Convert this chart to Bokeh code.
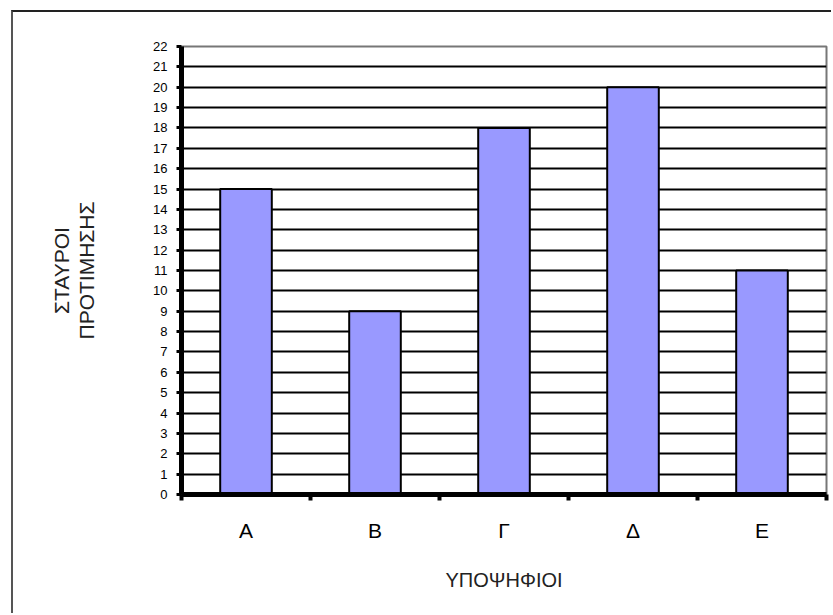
from bokeh.plotting import figure
from bokeh.models import FixedTicker, Range1d, LinearAxis
from bokeh.embed import file_html
from bokeh.resources import INLINE
import numpy as np

# Candidates and their preference votes
candidates = ["Α", "Β", "Γ", "Δ", "Ε"]
votes = [15, 9, 18, 20, 11]
y_ticks = list(range(0, 23))
y_title = ["ΣΤΑΥΡΟΙ", "ΠΡΟΤΙΜΗΣΗΣ"]

FONT = "Liberation Sans"

# bar centres sit halfway between the integer category boundaries
centres = np.arange(len(candidates)) + 0.5

p = figure(
    width=820, height=603,
    x_range=Range1d(0, len(candidates)),
    y_range=Range1d(0, 22),
    output_backend="svg", toolbar_location=None,
    min_border_left=168, min_border_top=34,
    min_border_right=7, min_border_bottom=121,
)
p.styles = {
    "border-left": "2px solid #555",
    "border-top": "2px solid #222",
    "margin-left": "11px",
    "margin-top": "10px",
}
p.background_fill_color = "white"
p.border_fill_color = "white"
p.outline_line_color = "#777777"
p.outline_line_width = 2

# horizontal grid, one line per vote
p.xgrid.visible = False
p.ygrid.ticker = FixedTicker(ticks=y_ticks)
p.ygrid.grid_line_color = "black"
p.ygrid.grid_line_width = 2

p.vbar(x=centres, top=votes, width=0.4,
       fill_color="#9999FF", line_color="black", line_width=2)


def style_title(axis, text, standoff):
    axis.axis_label = text
    axis.axis_label_text_font = FONT
    axis.axis_label_text_font_size = "21px"
    axis.axis_label_text_font_style = "normal"
    axis.axis_label_text_color = "#222222"
    axis.axis_label_standoff = standoff


# y axis
ya = p.yaxis[0]
ya.ticker = FixedTicker(ticks=y_ticks)
ya.axis_line_width = 5
ya.axis_line_color = "black"
ya.major_tick_out = 5
ya.major_tick_in = 0
ya.major_tick_line_width = 3
ya.minor_tick_line_color = None
ya.major_label_text_font = FONT
ya.major_label_text_font_size = "13px"
ya.major_label_text_color = "black"
ya.major_label_standoff = 9
style_title(ya, y_title[1], 52)

# outer, bare axis that only carries the first line of the y title
ya2 = LinearAxis(ticker=FixedTicker(ticks=[]))
ya2.axis_line_color = None
ya2.major_tick_line_color = None
ya2.minor_tick_line_color = None
ya2.major_label_text_font_size = "0px"
style_title(ya2, y_title[0], 0)
p.add_layout(ya2, "left")

# x axis: labels at bar centres, tick marks at category boundaries
xa = p.xaxis[0]
xa.ticker = FixedTicker(ticks=list(centres),
                        minor_ticks=list(range(len(candidates) + 1)))
xa.major_label_overrides = {float(c): n for c, n in zip(centres, candidates)}
xa.axis_line_width = 5
xa.axis_line_color = "black"
xa.major_tick_out = 0
xa.major_tick_in = 0
xa.minor_tick_out = 6
xa.minor_tick_in = 0
xa.minor_tick_line_width = 4
xa.minor_tick_line_color = "black"
xa.major_label_text_font = FONT
xa.major_label_text_font_size = "21px"
xa.major_label_text_color = "black"
xa.major_label_standoff = 18
style_title(xa, "ΥΠΟΨΗΦΙΟΙ", 24)
xa.axis_label_text_font_size = "20px"

open("out.html", "w").write(file_html(p, INLINE))
